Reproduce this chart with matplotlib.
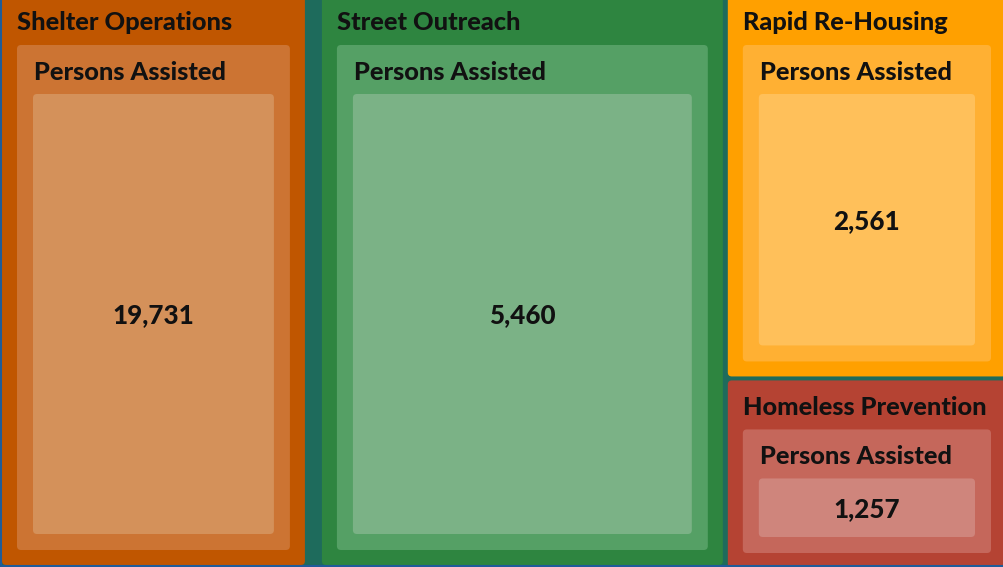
import matplotlib.pyplot as plt
from matplotlib.patches import FancyBboxPatch

# programs, the value shown, and the relative box size of each tile
programs = ["Shelter Operations", "Street Outreach", "Rapid Re-Housing", "Homeless Prevention"]
persons_assisted = [19731, 5460, 2561, 1257]
box_size = [170, 225, 104, 51]
measure_name = "Persons Assisted"

outer_colors = ["#c05600", "#2e8540", "#ffa000", "#b54333"]
mid_colors = ["#cc7433", "#55a065", "#ffb033", "#c5675b"]
inner_colors = ["#d4915a", "#7bb286", "#ffc05a", "#cf857c"]

W, H = 1004, 567
bg = "#1e6b5c"
font = "Lato"
wt = 900

fig = plt.figure(figsize=(W / 100, H / 100), dpi=100, facecolor=bg)
ax = fig.add_axes([0, 0, 1, 1])
ax.set_xlim(0, W)
ax.set_ylim(H, 0)
ax.axis("off")
ax.set_facecolor(bg)


def box(x0, y0, x1, y1, color):
    ax.add_patch(FancyBboxPatch((x0, y0), x1 - x0, y1 - y0,
                                boxstyle="round,pad=0,rounding_size=4",
                                facecolor=color, edgecolor="none"))


def tile(i, x0, y0, x1, y1):
    box(x0, y0, x1, y1, outer_colors[i])
    ax.text(x0 + 15, y0 + 27, programs[i], fontsize=18.3, fontweight=wt,
            family=font, color="#111111", va="center", ha="left")
    mx0, my0, mx1, my1 = x0 + 15, y0 + 49, x1 - 15, y1 - 15
    box(mx0, my0, mx1, my1, mid_colors[i])
    ax.text(mx0 + 17, my0 + 27, measure_name, fontsize=18.3, fontweight=wt,
            family=font, color="#111111", va="center", ha="left")
    ix0, iy0, ix1, iy1 = mx0 + 16, my0 + 49, mx1 - 16, my1 - 16
    box(ix0, iy0, ix1, iy1, inner_colors[i])
    ax.text((ix0 + ix1) / 2, (iy0 + iy1) / 2 + 1, f"{persons_assisted[i]:,}",
            fontsize=18.7, fontweight=wt, family=font, color="#111111",
            va="center", ha="center")


# slice layout: two full-height columns, then a stacked right column
top = -4
gaps = [17, 5]
left = 2
avail_w = W - left - sum(gaps)
right_w = box_size[2] + box_size[3]
total = box_size[0] + box_size[1] + right_w
widths = [box_size[0] / total * avail_w, box_size[1] / total * avail_w, right_w / total * avail_w]

x = left
tile(0, x, top, x + widths[0], H - 2)
x += widths[0] + gaps[0]
tile(1, x, top, x + widths[1], H - 2)
x += widths[1] + gaps[1]

vgap = 4
h_top = box_size[2] / right_w * (H - top - vgap)
tile(2, x, top, x + widths[2] + 2, top + h_top)
tile(3, x, top + h_top + vgap, x + widths[2] + 2, H + 1)

# thin blue frame along the edges
ax.plot([0.5, 0.5, W], [0, H - 1, H - 1], color="#1f5c9a", lw=1.5)

fig.savefig("out.png", dpi=100, facecolor=bg)
